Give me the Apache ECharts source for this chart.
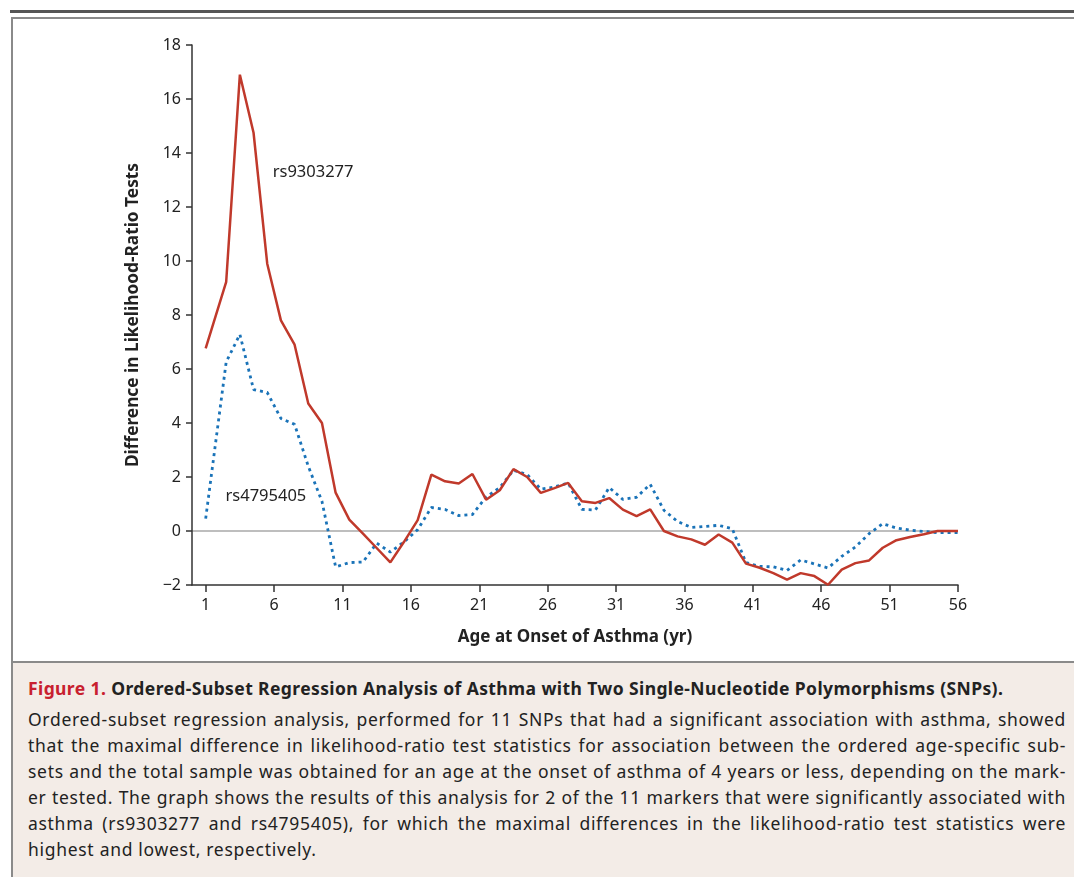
<!DOCTYPE html>
<html>
<head>
<meta charset="utf-8">
<script src="https://cdn.jsdelivr.net/npm/echarts@6/dist/echarts.min.js"></script>
<style>
  body { margin: 0; width: 1074px; height: 877px; overflow: hidden; background: #fff; position: relative; font-family: "Noto Sans", sans-serif; }
  #rule { position: absolute; left: 10px; right: 0; top: 10px; height: 3px; background: #555; }
  #box { position: absolute; left: 11px; top: 17px; right: -10px; bottom: -10px; border: 2px solid #8a8a8a; }
  #chart { position: absolute; left: 0; top: 0; width: 1074px; height: 661px; }
  #caption { position: absolute; left: 13px; right: 0; top: 661px; bottom: 0; background: #f3ece7; border-top: 2px solid #8a8a8a; color: #222; }
  #caption .title { position: absolute; left: 15px; top: 13px; font-size: 17.5px; letter-spacing: 0.4px; font-weight: bold; white-space: nowrap; }
  #caption .title span { color: #c8202f; }
  #caption .body { position: absolute; left: 15px; top: 43px; width: 1038px; font-size: 17.5px; letter-spacing: 0.7px; line-height: 26px; }
  #caption .body div { text-align: justify; text-align-last: justify; white-space: nowrap; }
  #caption .body div.last { text-align-last: left; }
</style>
</head>
<body>
<div id="rule"></div>
<div id="box"></div>
<div id="chart"></div>
<div id="caption">
  <div class="title"><span>Figure 1.</span> Ordered-Subset Regression Analysis of Asthma with Two Single-Nucleotide Polymorphisms (SNPs).</div>
  <div class="body">
    <div>Ordered-subset regression analysis, performed for 11 SNPs that had a significant association with asthma, showed</div>
    <div>that the maximal difference in likelihood-ratio test statistics for association between the ordered age-specific sub-</div>
    <div>sets and the total sample was obtained for an age at the onset of asthma of 4 years or less, depending on the mark-</div>
    <div>er tested. The graph shows the results of this analysis for 2 of the 11 markers that were significantly associated with</div>
    <div>asthma (rs9303277 and rs4795405), for which the maximal differences in the likelihood-ratio test statistics were</div>
    <div class="last">highest and lowest, respectively.</div>
  </div>
</div>
<script>
// age at onset (yr) for each subset
var ages = [1, 2.5, 3.5, 4.5, 5.5, 6.5, 7.5, 8.5, 9.5, 10.5,
  11.5, 12.5, 13.5, 14.5, 15.5, 16.5, 17.5, 18.5, 19.5, 20.5,
  21.5, 22.5, 23.5, 24.5, 25.5, 26.5, 27.5, 28.5, 29.5, 30.5,
  31.5, 32.5, 33.5, 34.5, 35.5, 36.5, 37.5, 38.5, 39.5, 40.5,
  41.5, 42.5, 43.5, 44.5, 45.5, 46.5, 47.5, 48.5, 49.5, 50.5,
  51.5, 52.5, 53.5, 54.5, 55.5, 56]

var rs9303277 = [6.76, 9.23, 16.9, 14.75, 9.9, 7.8, 6.9, 4.72, 4.0, 1.42,
  0.42, -0.1, -0.63, -1.16, -0.4, 0.4, 2.09, 1.84, 1.76, 2.11,
  1.16, 1.51, 2.29, 2.0, 1.41, 1.59, 1.78, 1.1, 1.04, 1.22,
  0.79, 0.55, 0.8, 0.0, -0.2, -0.31, -0.51, -0.13, -0.43, -1.21,
  -1.36, -1.56, -1.8, -1.56, -1.67, -1.99, -1.43, -1.19, -1.09, -0.62,
  -0.34, -0.22, -0.12, 0, 0, 0]

var rs4795405 = [0.46, 6.26, 7.28, 5.24, 5.13, 4.17, 3.95, 2.4, 1.1, -1.33,
  -1.17, -1.15, -0.45, -0.78, -0.4, 0.05, 0.87, 0.8, 0.57, 0.61,
  1.26, 1.61, 2.25, 2.09, 1.55, 1.63, 1.78, 0.8, 0.78, 1.61,
  1.17, 1.25, 1.73, 0.77, 0.35, 0.13, 0.17, 0.21, 0.08, -1.17,
  -1.31, -1.33, -1.46, -1.07, -1.22, -1.37, -0.94, -0.59, -0.1, 0.27,
  0.11, 0.03, -0.02, -0.06, -0.06, -0.06]

var xTicks = [1, 6, 11, 16, 21, 26, 31, 36, 41, 46, 51, 56]

// where the marker names sit, in data units
var label9303277 = [5.9, 13.3]
var label4795405 = [2.45, 1.3]

function pairs (ys) {
  return ages.map(function (a, i) { return [a, ys[i]] })
}

var chart = echarts.init(document.getElementById('chart'))
var font = '"Noto Sans", sans-serif'
var option = {
  animation: false,
  textStyle: { fontFamily: font },
  grid: { left: 192, right: 116, top: 45, bottom: 76 },
  xAxis: {
    type: 'value',
    min: 0,
    max: 56,
    name: 'Age at Onset of Asthma (yr)',
    nameLocation: 'middle',
    nameGap: 44,
    nameTextStyle: { fontSize: 17, fontWeight: 'bold', color: '#222', fontFamily: font },
    axisLine: { onZero: false, lineStyle: { color: '#333', width: 1.5 } },
    axisTick: { customValues: xTicks, length: 7, lineStyle: { color: '#333', width: 1.5 } },
    axisLabel: { customValues: xTicks, fontSize: 16, color: '#222', margin: 12, fontFamily: font },
    splitLine: { show: false }
  },
  yAxis: {
    type: 'value',
    min: -2,
    max: 18,
    interval: 2,
    name: 'Difference in Likelihood-Ratio Tests',
    nameLocation: 'middle',
    nameGap: 50,
    nameTextStyle: { fontSize: 17.3, fontWeight: 'bold', color: '#222', fontFamily: font },
    axisLine: { show: true, onZero: false, lineStyle: { color: '#333', width: 1.5 } },
    axisTick: { show: true, length: 6, lineStyle: { color: '#333', width: 1.5 } },
    axisLabel: {
      fontSize: 16, color: '#222', margin: 11, fontFamily: font,
      formatter: function (v) { return v < 0 ? '\u2212' + Math.abs(v) : '' + v }
    },
    // only the zero line is visible
    splitLine: {
      show: true,
      lineStyle: { color: ['transparent', '#a8a8a8', 'transparent', 'transparent', 'transparent', 'transparent',
        'transparent', 'transparent', 'transparent', 'transparent', 'transparent'], width: 1.5 }
    }
  },
  series: [
    {
      name: 'rs4795405',
      type: 'line',
      data: pairs(rs4795405),
      symbol: 'none',
      lineStyle: { color: '#1a73b8', width: 2.8, type: [3, 4] },
      markPoint: {
        symbol: 'circle',
        symbolSize: 0,
        label: { show: true, position: 'right', distance: 0, formatter: 'rs4795405', fontSize: 16.5, color: '#222', fontFamily: font },
        data: [{ coord: label4795405 }]
      }
    },
    {
      name: 'rs9303277',
      type: 'line',
      data: pairs(rs9303277),
      symbol: 'none',
      lineStyle: { color: '#c0392b', width: 2.5 },
      markPoint: {
        symbol: 'circle',
        symbolSize: 0,
        label: { show: true, position: 'right', distance: 0, formatter: 'rs9303277', fontSize: 16.5, color: '#222', fontFamily: font },
        data: [{ coord: label9303277 }]
      }
    }
  ]
}
chart.setOption(option)
</script>
</body>
</html>
